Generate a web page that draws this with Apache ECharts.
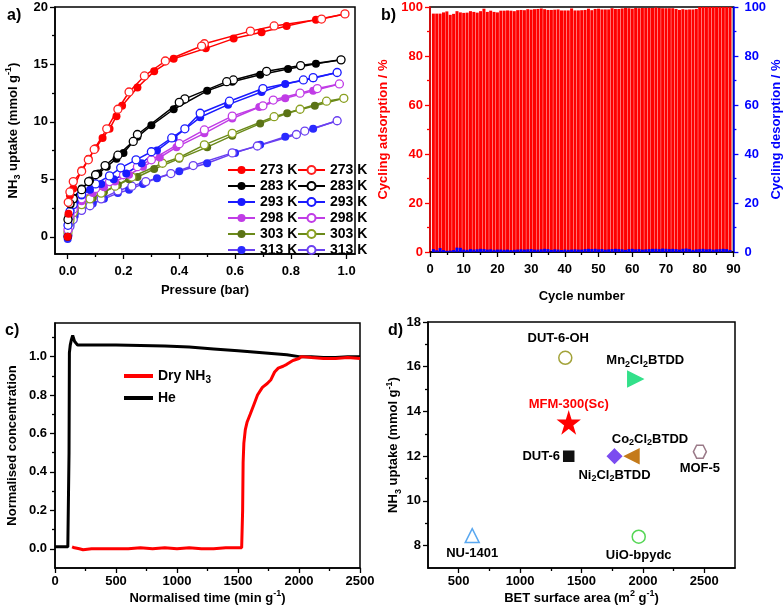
<!DOCTYPE html>
<html>
<head>
<meta charset="utf-8">
<script src="https://cdn.jsdelivr.net/npm/echarts@6/dist/echarts.min.js"></script>
<style>html,body{margin:0;padding:0;background:#fff}#c{width:784px;height:616px}</style>
</head>
<body>
<div id="c"></div>
<script>
// ---------- Panel a: NH3 isotherms ----------
const temps = ['273', '283', '293', '298', '303', '313'];
const ads273 = [[0,0],[0.003,2.0],[0.008,3.6],[0.02,4.2],[0.05,5.8],[0.075,6.8],[0.1,7.7],[0.125,8.6],[0.15,9.4],[0.175,10.5],[0.195,11.4],[0.25,13.0],[0.31,14.4],[0.38,15.5],[0.495,16.4],[0.595,17.25],[0.695,17.8],[0.785,18.35],[0.89,18.9],[0.994,19.4]];
const des273 = [[0.994,19.4],[0.91,18.95],[0.74,18.35],[0.655,17.9],[0.49,16.8],[0.48,16.6],[0.35,15.3],[0.275,14.0],[0.22,12.6],[0.18,11.1],[0.14,9.4],[0.095,7.6],[0.074,6.7],[0.05,5.7],[0.02,4.8],[0.008,3.9],[0.002,3.0]];
const ads283 = [[0,0],[0.003,1.8],[0.01,2.8],[0.02,3.4],[0.05,4.2],[0.08,4.9],[0.11,5.5],[0.14,6.1],[0.175,6.8],[0.2,7.3],[0.25,8.7],[0.3,9.7],[0.38,11.1],[0.5,12.7],[0.59,13.5],[0.69,14.1],[0.79,14.6],[0.89,15.05],[0.98,15.4]];
const des283 = [[0.98,15.4],[0.835,14.9],[0.713,14.4],[0.594,13.65],[0.57,13.5],[0.42,12.0],[0.4,11.7],[0.25,8.9],[0.235,8.3],[0.18,7.1],[0.134,6.2],[0.1,5.4],[0.075,4.8],[0.05,4.1],[0.02,3.3],[0.008,2.9],[0.001,1.5]];
const ads293 = [[0,0],[0.003,1.5],[0.01,2.3],[0.025,3.0],[0.05,3.6],[0.08,4.1],[0.12,4.6],[0.165,5.0],[0.21,5.5],[0.265,6.4],[0.32,7.5],[0.38,8.6],[0.475,10.4],[0.575,11.5],[0.695,12.6],[0.78,13.3],[0.88,13.8],[0.966,14.3]];
const des293 = [[0.966,14.3],[0.88,13.85],[0.845,13.65],[0.7,12.9],[0.58,11.8],[0.475,10.75],[0.42,9.4],[0.373,8.6],[0.3,7.4],[0.245,6.7],[0.19,6.0],[0.15,5.3],[0.1,4.6],[0.05,3.7],[0.02,2.8],[0.008,2.2],[0.001,1.0]];
const ads298 = [[0,0],[0.003,1.2],[0.01,1.9],[0.025,2.6],[0.05,3.1],[0.09,3.8],[0.13,4.3],[0.17,4.8],[0.22,5.4],[0.27,6.1],[0.33,6.9],[0.39,7.8],[0.49,9.0],[0.59,10.3],[0.687,11.3],[0.78,12.05],[0.88,12.7],[0.974,13.3]];
const des298 = [[0.974,13.3],[0.895,12.9],[0.833,12.5],[0.737,11.9],[0.7,11.4],[0.59,10.5],[0.49,9.3],[0.4,8.1],[0.3,6.7],[0.25,6.1],[0.2,5.4],[0.15,4.8],[0.1,4.2],[0.05,3.3],[0.02,2.4],[0.008,1.8],[0.001,0.6]];
const ads303 = [[0,0],[0.003,1.0],[0.01,1.6],[0.025,2.3],[0.05,2.8],[0.09,3.4],[0.13,3.9],[0.18,4.5],[0.22,5.0],[0.25,5.2],[0.31,5.9],[0.4,6.8],[0.5,7.8],[0.59,8.8],[0.69,9.85],[0.787,10.75],[0.886,11.4],[0.99,12.05]];
const des303 = [[0.99,12.05],[0.928,11.8],[0.833,11.1],[0.74,10.45],[0.59,9.0],[0.49,8.0],[0.4,6.9],[0.34,6.4],[0.23,5.2],[0.17,4.4],[0.12,3.8],[0.08,3.3],[0.05,2.8],[0.02,2.1],[0.008,1.4],[0.001,0.4]];
const ads313 = [[0,-0.2],[0.003,0.6],[0.01,1.1],[0.025,1.8],[0.05,2.3],[0.09,2.9],[0.13,3.3],[0.18,3.8],[0.22,4.1],[0.27,4.6],[0.32,5.1],[0.4,5.7],[0.5,6.4],[0.6,7.3],[0.69,8.0],[0.78,8.7],[0.88,9.4],[0.966,10.1]];
const des313 = [[0.966,10.1],[0.85,9.2],[0.82,8.9],[0.68,7.9],[0.59,7.3],[0.45,6.2],[0.37,5.5],[0.28,4.8],[0.23,4.4],[0.18,4.0],[0.12,3.3],[0.08,2.7],[0.05,2.3],[0.02,1.5],[0.008,0.9],[0.001,0.1]];
const pressureTicks = [0, 0.2, 0.4, 0.6, 0.8, 1.0];
const pressureMinor = [0.1, 0.3, 0.5, 0.7, 0.9];
const uptakeTicks = [0, 5, 10, 15, 20];
const uptakeMinor = [2.5, 7.5, 12.5, 17.5];

// ---------- Panel b: cycling ----------
const cyclingAds = [97.3,97.3,97.3,97.8,98.2,96.8,97.2,98.3,97.8,97.6,97.7,98.3,98.0,97.7,98.3,99.3,98.0,98.5,98.0,97.8,98.5,98.5,98.6,98.5,98.3,98.7,98.8,98.7,99.1,98.9,99.1,99.2,99.4,99.1,98.8,98.8,98.9,99.0,98.6,98.6,98.6,99.4,98.6,98.6,98.7,98.8,99.3,98.7,99.2,99.3,99.0,99.0,99.0,99.5,99.2,99.2,99.4,99.6,99.5,99.3,99.6,99.5,99.6,99.6,99.6,99.6,99.8,99.6,99.5,99.5,99.5,99.5,99.2,98.8,99.1,98.9,99.0,99.0,99.2,100,100,100,100,100,100,100,100,100,100];
const cyclingDes = [1.2,0.7,1.6,0.8,0.5,0.6,0.8,1.8,1.7,1.0,0.9,1.2,1.0,1.1,1.3,1.2,1.0,1.1,0.9,1.0,1.0,0.9,1.0,0.8,0.9,1.0,1.1,1.0,1.1,1.2,1.0,1.0,1.1,1.3,1.2,0.9,1.1,1.0,0.8,1.0,0.9,1.0,1.1,1.0,1.0,1.2,1.3,1.2,1.3,1.1,1.2,1.0,1.1,1.2,1.3,1.2,1.1,0.9,1.2,1.3,1.1,1.2,1.0,1.1,1.2,1.3,1.3,1.2,1.4,1.3,1.2,1.3,1.2,1.0,1.3,1.4,1.2,0.9,1.1,1.2,1.3,1.1,1.2,1.0,1.1,1.2,1.3,1.2,0.8];
const cycleTicks = [0,10,20,30,40,50,60,70,80,90];
const cycleMinor = [5,15,25,35,45,55,65,75,85];
const pctTicks = [0,20,40,60,80,100];
const pctMinor = [10,30,50,70,90];

// ---------- Panel c: breakthrough ----------
const heCurve = [[0,0.01],[60,0.01],[105,0.01],[112,0.02],[115,0.5],[118,1.02],[125,1.06],[135,1.09],[145,1.11],[152,1.1],[160,1.08],[170,1.07],[185,1.06],[300,1.06],[500,1.06],[700,1.058],[900,1.055],[1100,1.05],[1300,1.04],[1500,1.03],[1700,1.02],[1800,1.015],[1900,1.01],[2000,1.0],[2100,1.0],[2200,0.995],[2300,0.995],[2400,1.0],[2500,1.0]];
const nh3Curve = [[140,0.01],[160,0.005],[200,0.0],[230,-0.005],[300,0.0],[400,0.0],[500,0.0],[600,0.0],[700,0.005],[800,0.0],[900,0.005],[1000,0.0],[1100,0.005],[1200,0.0],[1300,0.0],[1400,0.005],[1450,0.005],[1530,0.005],[1538,0.2],[1542,0.45],[1548,0.55],[1560,0.62],[1575,0.66],[1600,0.7],[1630,0.75],[1660,0.8],[1700,0.84],[1740,0.86],[1770,0.88],[1800,0.92],[1830,0.94],[1870,0.95],[1900,0.96],[1950,0.98],[2000,0.99],[2020,1.0],[2100,0.995],[2200,0.99],[2300,0.99],[2400,0.995],[2500,0.99]];
const timeTicks = [0,500,1000,1500,2000,2500];
const timeMinor = [250,750,1250,1750,2250];
const concTicks = [0,0.2,0.4,0.6,0.8,1.0];
const concMinor = [0.1,0.3,0.5,0.7,0.9,1.1];

// ---------- Panel d: comparison ----------
const mofNames = ['DUT-6-OH','Mn2Cl2BTDD','MFM-300(Sc)','DUT-6','Ni2Cl2BTDD','Co2Cl2BTDD','MOF-5','NU-1401','UiO-bpydc'];
const mofBET = [1368,1938,1396,1396,1769,1911,2464,610,1966];
const mofUptake = [16.4,15.45,13.5,12.0,12.0,12.0,12.2,8.45,8.4];
const betTicks = [500,1000,1500,2000,2500];
const betMinor = [750,1250,1750,2250];
const dUptakeTicks = [8,10,12,14,16,18];
const dUptakeMinor = [9,11,13,15,17];

// ---------- styling ----------
const FF = '"Liberation Sans", Arial, Helvetica, sans-serif';
const colA = {'273':'#ff0000','283':'#000000','293':'#1a1aff','298':'#c03ce6','303':'#5b7316','313':'#2a2aff'};
const lineA = {'273':'#ff0000','283':'#000000','293':'#1a1aff','298':'#c03ce6','303':'#6b8a1a','313':'#6a40f0'};
const openA = {'273':'#ff2020','283':'#000000','293':'#1a1aff','298':'#c03ce6','303':'#8aa020','313':'#6a40f0'};
const adsData = {'273':ads273,'283':ads283,'293':ads293,'298':ads298,'303':ads303,'313':ads313};
const desData = {'273':des273,'283':des283,'293':des293,'298':des298,'303':des303,'313':des313};

function rich(color) {
  return {
    n: {fontSize: 13, fontWeight: 'bold', fontFamily: FF, color: color, lineHeight: 18},
    s: {fontSize: 9, fontWeight: 'bold', fontFamily: FF, color: color, lineHeight: 10, verticalAlign: 'bottom'},
    p: {fontSize: 9, fontWeight: 'bold', fontFamily: FF, color: color, lineHeight: 10, verticalAlign: 'top'}
  };
}

function mkAxis(o) {
  const color = o.color || '#000';
  const ax = {
    type: 'value', gridIndex: o.grid, min: o.min, max: o.max, position: o.pos,
    axisLine: {show: !o.minor, onZero: false, lineStyle: {color: color, width: 1.5}},
    axisTick: {show: true, inside: false, length: o.minor ? 3 : 5, customValues: o.ticks, lineStyle: {color: color, width: 1.3}},
    axisLabel: {show: !o.minor, customValues: o.ticks, margin: o.margin || 8, formatter: o.fmt || (v => String(v)),
      fontFamily: FF, fontWeight: 'bold', fontSize: 13, color: color},
    splitLine: {show: false},
    minorTick: {show: false}
  };
  if (o.name) {
    ax.name = o.name; ax.nameLocation = 'middle'; ax.nameGap = o.gap;
    ax.nameTextStyle = {fontFamily: FF, fontWeight: 'bold', fontSize: 13, color: color, rich: rich(color)};
  }
  return ax;
}

const uptakeName = '{n|NH}{s|3}{n| uptake (mmol g}{p|-1}{n|)}';

const xAxis = [
  mkAxis({grid:0, min:-0.0455, max:1.03, pos:'bottom', ticks:pressureTicks, fmt: v => v.toFixed(1), margin:11, name:'{n|Pressure (bar)}', gap:27}),
  mkAxis({grid:0, min:-0.0455, max:1.03, pos:'bottom', ticks:pressureMinor, minor:true}),
  mkAxis({grid:1, min:0, max:90, pos:'bottom', ticks:cycleTicks, margin:11, name:'{n|Cycle number}', gap:35}),
  mkAxis({grid:1, min:0, max:90, pos:'bottom', ticks:cycleMinor, minor:true}),
  mkAxis({grid:2, min:0, max:2500, pos:'bottom', ticks:timeTicks, margin:7, name:'{n|Normalised time (min g}{p|-1}{n|)}', gap:21}),
  mkAxis({grid:2, min:0, max:2500, pos:'bottom', ticks:timeMinor, minor:true}),
  mkAxis({grid:3, min:250, max:2750, pos:'bottom', ticks:betTicks, margin:7, name:'{n|BET surface area (m}{p|2}{n| g}{p|-1}{n|)}', gap:21}),
  mkAxis({grid:3, min:250, max:2750, pos:'bottom', ticks:betMinor, minor:true})
];
const yAxis = [
  mkAxis({grid:0, min:-1.5, max:20, pos:'left', ticks:uptakeTicks, margin:7, name:uptakeName, gap:33}),
  mkAxis({grid:0, min:-1.5, max:20, pos:'left', ticks:uptakeMinor, minor:true}),
  mkAxis({grid:1, min:0, max:100, pos:'left', ticks:pctTicks, margin:7, color:'#ff0000', name:'{n|Cycling adsorption / %}', gap:38}),
  mkAxis({grid:1, min:0, max:100, pos:'left', ticks:pctMinor, minor:true, color:'#ff0000'}),
  mkAxis({grid:1, min:0, max:100, pos:'right', ticks:pctTicks, margin:11, color:'#0000ff', name:'{n|Cycling desorption / %}', gap:34}),
  mkAxis({grid:1, min:0, max:100, pos:'right', ticks:pctMinor, minor:true, color:'#0000ff'}),
  mkAxis({grid:2, min:-0.1, max:1.175, pos:'left', ticks:concTicks, fmt: v => v.toFixed(1), margin:8, name:'{n|Normalised concentration}', gap:34}),
  mkAxis({grid:2, min:-0.1, max:1.175, pos:'left', ticks:concMinor, minor:true}),
  mkAxis({grid:3, min:7, max:18, pos:'left', ticks:dUptakeTicks, margin:7, name:uptakeName, gap:20}),
  mkAxis({grid:3, min:7, max:18, pos:'left', ticks:dUptakeMinor, minor:true})
];

const series = [];
temps.slice().reverse().forEach(t => {
  series.push({
    type: 'line', name: t + ' K', xAxisIndex: 0, yAxisIndex: 0, data: adsData[t],
    symbol: 'circle', symbolSize: 8, itemStyle: {color: colA[t]},
    lineStyle: {color: lineA[t], width: 1.5}, z: 3
  });
  series.push({
    type: 'line', name: t + ' K ', xAxisIndex: 0, yAxisIndex: 0, data: desData[t],
    symbol: 'circle', symbolSize: 8, itemStyle: {color: '#ffffff', borderColor: openA[t], borderWidth: 1.3},
    lineStyle: {color: lineA[t], width: 1.5}, z: 3
  });
});

const cycles = cyclingAds.map((v, i) => i + 1);
series.push({
  type: 'bar', name: 'ads', xAxisIndex: 2, yAxisIndex: 2, barWidth: 3, barGap: '-100%',
  data: cycles.map((c, i) => [c, cyclingAds[i]]), itemStyle: {color: '#ff0000'}
});
series.push({
  type: 'bar', name: 'des', xAxisIndex: 2, yAxisIndex: 4, barWidth: 3, barGap: '-100%',
  data: cycles.map((c, i) => [c, cyclingDes[i]]), itemStyle: {color: '#0000ff'}
});

series.push({
  type: 'line', name: 'He', xAxisIndex: 4, yAxisIndex: 6, data: heCurve, showSymbol: false, symbol: 'none',
  lineStyle: {color: '#000000', width: 3}, itemStyle: {color: '#000000'}
});
series.push({
  type: 'line', name: 'Dry NH3', xAxisIndex: 4, yAxisIndex: 6, data: nh3Curve, showSymbol: false, symbol: 'none',
  lineStyle: {color: '#ff0000', width: 3}, itemStyle: {color: '#ff0000'}
});

const star = 'path://M50,0 L61,35 L98,35 L68,57 L79,91 L50,70 L21,91 L32,57 L2,35 L39,35 Z';
const hexagon = 'path://M25,0 L75,0 L100,43 L75,86 L25,86 L0,43 Z';
const mofStyle = {
  'DUT-6-OH':   {symbol:'circle', size:13, fill:'#ffffff', border:'#a3a33a', pos:'top', off:[-7,-1]},
  'Mn2Cl2BTDD': {symbol:'triangle', rot:-90, size:15, fill:'#33e08a', border:'#33e08a', pos:'top', off:[10,1]},
  'MFM-300(Sc)':{symbol:star, size:20, fill:'#ff0000', border:'#ff0000', pos:'top', off:[0,4], red:true},
  'DUT-6':      {symbol:'rect', size:10, fill:'#111111', border:'#111111', pos:'left', off:[0,0]},
  'Ni2Cl2BTDD': {symbol:'diamond', size:14, fill:'#7b4cf0', border:'#7b4cf0', pos:'bottom', off:[0,0]},
  'Co2Cl2BTDD': {symbol:'triangle', rot:90, size:14, fill:'#c47a1a', border:'#c47a1a', pos:'top', off:[18,2]},
  'MOF-5':      {symbol:hexagon, size:13, fill:'#ffffff', border:'#9a7a88', pos:'bottom', off:[0,-2]},
  'NU-1401':    {symbol:'triangle', size:14, fill:'#ffffff', border:'#5aa8f0', pos:'bottom', off:[0,-1]},
  'UiO-bpydc':  {symbol:'circle', size:13, fill:'#ffffff', border:'#55d655', pos:'bottom', off:[0,0]}
};
function mofLabel(n) {
  const tk = mofStyle[n].red ? 'r' : 't';
  if (n.indexOf('BTDD') >= 0) return '{t|' + n.replace(/(\d)/g, '}{s|$1}{t|') + '}';
  return '{' + tk + '|' + n + '}';
}
series.push({
  type: 'scatter', name: 'mof', xAxisIndex: 6, yAxisIndex: 8,
  data: mofNames.map((n, i) => {
    const s = mofStyle[n];
    return {
      name: n, value: [mofBET[i], mofUptake[i]], symbol: s.symbol, symbolSize: s.size, symbolRotate: s.rot || 0,
      itemStyle: {color: s.fill, borderColor: s.border, borderWidth: 1.5, opacity: 1},
      label: {show: true, position: s.pos, offset: s.off, distance: 3, formatter: mofLabel(n),
        rich: {
          t: {fontFamily: FF, fontWeight: 'bold', fontSize: 13, color: '#000', lineHeight: 16},
          r: {fontFamily: FF, fontWeight: 'bold', fontSize: 13, color: '#ff0000', lineHeight: 16},
          s: {fontFamily: FF, fontWeight: 'bold', fontSize: 9, color: '#000', lineHeight: 10, verticalAlign: 'bottom'}
        }}
    };
  })
});

const legendText = {fontFamily: FF, fontWeight: 'bold', fontSize: 14, color: '#000', lineHeight: 14};
const option = {
  animation: false,
  backgroundColor: '#ffffff',
  title: [
    {text: 'a)', left: 2, top: 3},
    {text: 'b)', left: 376, top: 3},
    {text: 'c)', left: 0, top: 318},
    {text: 'd)', left: 383, top: 318}
  ].map(t => Object.assign(t, {textStyle: {fontFamily: FF, fontWeight: 'bold', fontSize: 16, color: '#000'}})),
  grid: [
    {left: 55, top: 7, width: 300, height: 247},
    {left: 430, top: 7, width: 305, height: 245},
    {left: 55, top: 323, width: 305, height: 245},
    {left: 428, top: 322, width: 307, height: 246}
  ].map(g => Object.assign(g, {show: true, borderColor: '#000', borderWidth: 1.5, backgroundColor: 'transparent', containLabel: false})),
  xAxis: xAxis,
  yAxis: yAxis,
  legend: [
    {data: temps.map(t => t + ' K'), orient: 'vertical', left: 222, top: 158, itemGap: 2, itemWidth: 27, itemHeight: 10,
      selectedMode: false, textStyle: legendText},
    {data: temps.map(t => t + ' K '), orient: 'vertical', left: 292, top: 158, itemGap: 2, itemWidth: 27, itemHeight: 10,
      selectedMode: false, textStyle: legendText, formatter: n => n.trim()},
    {data: ['Dry NH3', 'He'], orient: 'vertical', left: 119, top: 364, itemGap: 6, itemWidth: 29, itemHeight: 4,
      icon: 'rect', selectedMode: false,
      formatter: n => n === 'Dry NH3' ? '{t|Dry NH}{s|3}' : '{t|He}',
      textStyle: {fontFamily: FF, fontWeight: 'bold', fontSize: 14, color: '#000',
        rich: {t: {fontFamily: FF, fontWeight: 'bold', fontSize: 14, color: '#000', lineHeight: 18},
               s: {fontFamily: FF, fontWeight: 'bold', fontSize: 10, color: '#000', lineHeight: 10, verticalAlign: 'bottom'}}}}
  ],
  series: series
};
const chart = echarts.init(document.getElementById('c'), null, {renderer: 'canvas', width: 784, height: 616});
chart.setOption(option);
</script>
</body>
</html>
